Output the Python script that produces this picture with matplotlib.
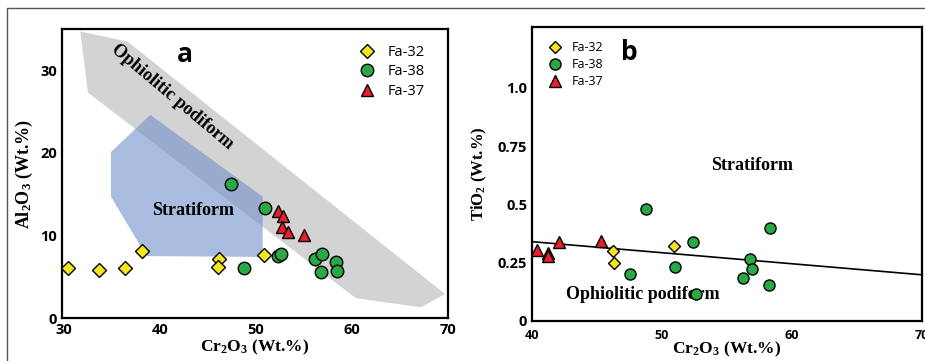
import matplotlib.pyplot as plt
from matplotlib.lines import Line2D
from matplotlib.patches import Polygon

plt.rcParams['font.family'] = ['Open Sans', 'DejaVu Sans']
plt.rcParams['mathtext.fontset'] = 'custom'
plt.rcParams['mathtext.rm'] = 'Liberation Serif:bold'
plt.rcParams['mathtext.default'] = 'rm'

SERIF = 'Liberation Serif'

# ---- panel a : Cr2O3 vs Al2O3 ----
a_fa32_x = [30.4, 33.7, 36.4, 38.1, 46.2, 46.0, 50.8]
a_fa32_y = [6.1, 5.8, 6.1, 8.1, 7.2, 6.2, 7.6]
a_fa38_x = [47.4, 50.9, 48.8, 52.3, 52.6, 56.1, 56.9, 56.8, 58.3, 58.4]
a_fa38_y = [16.2, 13.3, 6.1, 7.5, 7.8, 7.2, 7.8, 5.6, 6.8, 5.7]
a_fa37_x = [52.3, 52.8, 52.7, 53.3, 55.0]
a_fa37_y = [13.0, 12.4, 11.0, 10.4, 10.1]

podiform_x = [31.7, 36.6, 69.7, 67.2, 60.4, 32.5]
podiform_y = [34.7, 33.5, 2.9, 1.3, 2.4, 27.3]
stratiform_x = [39.0, 50.7, 50.7, 38.6, 34.9, 34.9]
stratiform_y = [24.6, 14.7, 7.4, 7.5, 14.7, 20.1]

# ---- panel b : Cr2O3 vs TiO2 ----
b_fa32_x = [46.2, 46.3, 50.9]
b_fa32_y = [0.30, 0.25, 0.32]
b_fa38_x = [48.8, 47.5, 51.0, 52.4, 52.6, 56.2, 56.8, 56.9, 58.3, 58.2]
b_fa38_y = [0.48, 0.20, 0.23, 0.34, 0.116, 0.185, 0.267, 0.224, 0.397, 0.155]
b_fa37_x = [40.4, 41.2, 41.2, 42.1, 45.3]
b_fa37_y = [0.306, 0.29, 0.28, 0.34, 0.345]

boundary_x = [40, 70]
boundary_y = [0.34, 0.198]

YELLOW = '#f4e51e'
GREEN = '#2aa845'
RED = '#e8202a'


def draw_points(ax, x32, y32, x38, y38, x37, y37, s):
	ax.plot(x32, y32, 'D', ms=s * 0.75, mfc=YELLOW, mec='black', mew=1, ls='none', label='Fa-32', zorder=5)
	ax.plot(x38, y38, 'o', ms=s, mfc=GREEN, mec='black', mew=1, ls='none', label='Fa-38', zorder=5)
	ax.plot(x37, y37, '^', ms=s, mfc=RED, mec='black', mew=1, ls='none', label='Fa-37', zorder=5)


def style_axes(ax):
	for sp in ax.spines.values():
		sp.set_linewidth(1.6)
	ax.tick_params(length=0, labelsize=10.5)
	for tl in ax.get_xticklabels() + ax.get_yticklabels():
		tl.set_fontweight('bold')


fig = plt.figure(figsize=(9.25, 3.61), dpi=100)

# outer frame (top and left)
fig.add_artist(Line2D([7 / 925, 7 / 925, 1.0], [0, 1 - 8 / 361, 1 - 8 / 361],
					  transform=fig.transFigure, color='#555555', lw=1))

ax1 = fig.add_axes([62 / 925, 43 / 361, 386 / 925, 289 / 361])
ax1.add_patch(Polygon(list(zip(podiform_x, podiform_y)), closed=True, fc='#d3d3d3', ec='none', zorder=1))
ax1.add_patch(Polygon(list(zip(stratiform_x, stratiform_y)), closed=True, fc='#7592cc', alpha=0.62, ec='none', zorder=2))
draw_points(ax1, a_fa32_x, a_fa32_y, a_fa38_x, a_fa38_y, a_fa37_x, a_fa37_y, 9)
ax1.set_xlim(29.8, 70)
ax1.set_ylim(0, 35)
ax1.set_xticks([30, 40, 50, 60, 70])
ax1.set_yticks([0, 10, 20, 30])
style_axes(ax1)
ax1.set_xlabel(r'Cr$_2$O$_3$ (Wt.%)', family=SERIF, fontweight='bold', fontsize=12.5, labelpad=1)
ax1.set_ylabel(r'Al$_2$O$_3$ (Wt.%)', family=SERIF, fontweight='bold', fontsize=13, labelpad=4)
ax1.text(42.6, 31.9, 'a', fontsize=19, fontweight='bold', ha='center', va='center')
ax1.text(41.3, 26.8, 'Ophiolitic podiform', family=SERIF, fontweight='bold', fontsize=13,
		 rotation=-40, ha='center', va='center', rotation_mode='anchor')
ax1.text(43.4, 13.0, 'Stratiform', family=SERIF, fontweight='bold', fontsize=13, ha='center', va='center')
ax1.legend(loc='upper right', bbox_to_anchor=(0.97, 0.985), frameon=False, fontsize=10.5,
		   handletextpad=0.4, labelspacing=0.3, borderpad=0.3)

ax2 = fig.add_axes([532 / 925, 40 / 361, 390 / 925, 294 / 361])
ax2.plot(boundary_x, boundary_y, color='black', lw=1.2, zorder=3)
draw_points(ax2, b_fa32_x, b_fa32_y, b_fa38_x, b_fa38_y, b_fa37_x, b_fa37_y, 8)
ax2.set_xlim(40, 70)
ax2.set_ylim(0, 1.26)
ax2.set_xticks([40, 50, 60, 70])
ax2.set_yticks([0, 0.25, 0.5, 0.75, 1.0])
ax2.set_yticklabels(['0', '0.25', '0.5', '0.75', '1.0'])
style_axes(ax2)
ax2.tick_params(axis='x', labelsize=9, pad=6)
ax2.set_xlabel(r'Cr$_2$O$_3$ (Wt.%)', family=SERIF, fontweight='bold', fontsize=12.5, labelpad=-2)
ax2.set_ylabel(r'TiO$_2$ (Wt.%)', family=SERIF, fontweight='bold', fontsize=12, labelpad=6)
ax2.text(47.5, 1.15, 'b', fontsize=19, fontweight='bold', ha='center', va='center')
ax2.text(56.9, 0.668, 'Stratiform', family=SERIF, fontweight='bold', fontsize=13, ha='center', va='center')
ax2.text(48.5, 0.112, 'Ophiolitic podiform', family=SERIF, fontweight='bold', fontsize=13, ha='center', va='center')
ax2.legend(loc='upper left', bbox_to_anchor=(0.0, 0.985), frameon=False, fontsize=9,
		   handletextpad=0.4, labelspacing=0.3, borderpad=0.3)

fig.savefig('out.png', dpi=100)
